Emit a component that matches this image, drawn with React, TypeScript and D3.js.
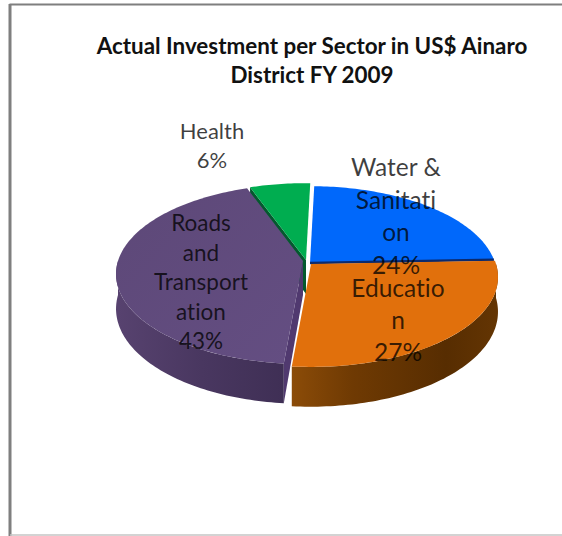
import React from "react";
import * as d3 from "d3";

// Sector shares in percent, drawn clockwise from twelve o'clock
const sectors = ["Water & Sanitation", "Education", "Roads and Transportation", "Health"];
const shares = [24, 27, 43, 6];
const titleLines = ["Actual Investment per Sector in US$ Ainaro", "District FY 2009"];
const labelLines = [
  ["Water &", "Sanitati", "on", "24%"],
  ["Educatio", "n", "27%"],
  ["Roads", "and", "Transport", "ation", "43%"],
  ["Health", "6%"],
];

const W = 562;
const H = 536;
const FAR_NEAR = 0.145; // strength of the perspective on the tilted disc
const RX = 185;
const RY = 88;
const DEPTH = 34;
const START = (1.5 * Math.PI) / 180;

const topFill = ["#0068fb", "#e1700c", "#5f4a7c", "#00ad50"];
const edgeFill = ["#0b2a6e", "#7a3f04", "#47355f", "#04592e"];

// Where each slice's apex sits once exploded from the pie
const apex = [
  { x: 310, y: 263 },
  { x: 311, y: 264 },
  { x: 303, y: 261 },
  { x: 306, y: 260 },
];

const labelStyle = [
  { x: 396, y: 176, step: 32.5, size: 24.5 },
  { x: 398, y: 297, step: 32, size: 24.5 },
  { x: 201, y: 231, step: 29.5, size: 22.5 },
  { x: 212, y: 139, step: 29, size: 22 },
];

type Pt = [number, number];

function project(c: { x: number; y: number }, a: number, lift = 0): Pt {
  const u = Math.sin(a);
  const v = Math.cos(a);
  const w = 1 + FAR_NEAR * v;
  return [c.x + (RX * u) / w, c.y - (RY * v) / w + (lift ? DEPTH / w : 0)];
}

const line = d3.line<Pt>();

function arcPoints(c: { x: number; y: number }, a0: number, a1: number, lift = 0): Pt[] {
  const n = Math.max(2, Math.ceil(Math.abs(a1 - a0) / 0.02));
  const t = d3.scaleLinear().domain([0, n]).range([a0, a1]);
  return d3.range(n + 1).map((i) => project(c, t(i), lift));
}

export default function App() {
  const arcs = d3
    .pie<number>()
    .sort(null)
    .startAngle(START)
    .endAngle(START + 2 * Math.PI)(shares);

  const topPath = (i: number) => {
    const c = apex[i];
    return line([[c.x, c.y], ...arcPoints(c, arcs[i].startAngle, arcs[i].endAngle)])! + "Z";
  };

  // Outer rim of a slice over the near half of the disc
  const rimPath = (i: number) => {
    const c = apex[i];
    const a0 = Math.max(arcs[i].startAngle, Math.PI / 2);
    const a1 = Math.min(arcs[i].endAngle, (3 * Math.PI) / 2);
    return line([...arcPoints(c, a0, a1), ...arcPoints(c, a1, a0, 1)])! + "Z";
  };

  // Radial cut face running from the apex to the rim
  const cutPath = (i: number, a: number) => {
    const c = apex[i];
    const tip: Pt = [c.x, c.y];
    const tipLow: Pt = [c.x, c.y + DEPTH];
    return line([tip, project(c, a), project(c, a, 1), tipLow])! + "Z";
  };

  const waterEnd = project(apex[0], arcs[0].endAngle);

  return (
    <svg
      width={W}
      height={H}
      style={{ position: "absolute", left: 0, top: 0, background: "#fff", fontVariantLigatures: "none" }}
      fontFamily="Lato, 'Noto Sans', sans-serif"
    >
      <defs>
        <linearGradient id="eduRim" gradientUnits="userSpaceOnUse" x1="290" x2="498" y1="0" y2="0">
          <stop offset="0" stopColor="#8c4c08" />
          <stop offset="0.3" stopColor="#6f3a03" />
          <stop offset="0.75" stopColor="#572d01" />
          <stop offset="1" stopColor="#643503" />
        </linearGradient>
        <linearGradient id="roadRim" gradientUnits="userSpaceOnUse" x1="118" x2="285" y1="0" y2="0">
          <stop offset="0" stopColor="#57426f" />
          <stop offset="0.5" stopColor="#493760" />
          <stop offset="1" stopColor="#3f2f55" />
        </linearGradient>
        <linearGradient id="roadTop" gradientUnits="userSpaceOnUse" x1="118" x2="300" y1="190" y2="360">
          <stop offset="0" stopColor="#5d4878" />
          <stop offset="1" stopColor="#644e82" />
        </linearGradient>
      </defs>

      {/* Frame of the chart area */}
      <rect x={0} y={0} width={W} height={H} fill="#fff" />
      <line x1={9.5} x2={W} y1={4.5} y2={4.5} stroke="#7f7f7f" strokeWidth={2} />
      <line x1={10} x2={10} y1={4} y2={H} stroke="#7f7f7f" strokeWidth={3} />
      <line x1={10} x2={W} y1={535} y2={535} stroke="#c4c4c4" strokeWidth={1.5} />

      {/* Slices, far ones first */}
      <path d={cutPath(3, arcs[3].startAngle)} fill={edgeFill[3]} />
      <path d={topPath(3)} fill={topFill[3]} />

      <path d={topPath(0)} fill={topFill[0]} />
      <path d={line([[apex[0].x, apex[0].y], waterEnd])!} stroke={edgeFill[0]} strokeWidth={2.5} fill="none" />

      <path d={rimPath(1)} fill="url(#eduRim)" />
      <path d={topPath(1)} fill={topFill[1]} />

      <path d={cutPath(2, arcs[2].startAngle)} fill="#50396f" />
      <path d={rimPath(2)} fill="url(#roadRim)" />
      <path d={topPath(2)} fill="url(#roadTop)" />

      {/* Title */}
      <g textAnchor="middle" fontSize={22.4} fontWeight={700} fill="#111">
        {titleLines.map((t, i) => (
          <text key={t} x={312} y={54 + i * 29}>
            {t}
          </text>
        ))}
      </g>

      {/* Data labels */}
      {labelLines.map((lines, i) => (
        <g key={sectors[i]} textAnchor="middle" fontSize={labelStyle[i].size} fill="#000" fillOpacity={0.76}>
          {lines.map((t, j) => (
            <text key={t} x={labelStyle[i].x} y={labelStyle[i].y + j * labelStyle[i].step}>
              {t}
            </text>
          ))}
        </g>
      ))}
    </svg>
  );
}
